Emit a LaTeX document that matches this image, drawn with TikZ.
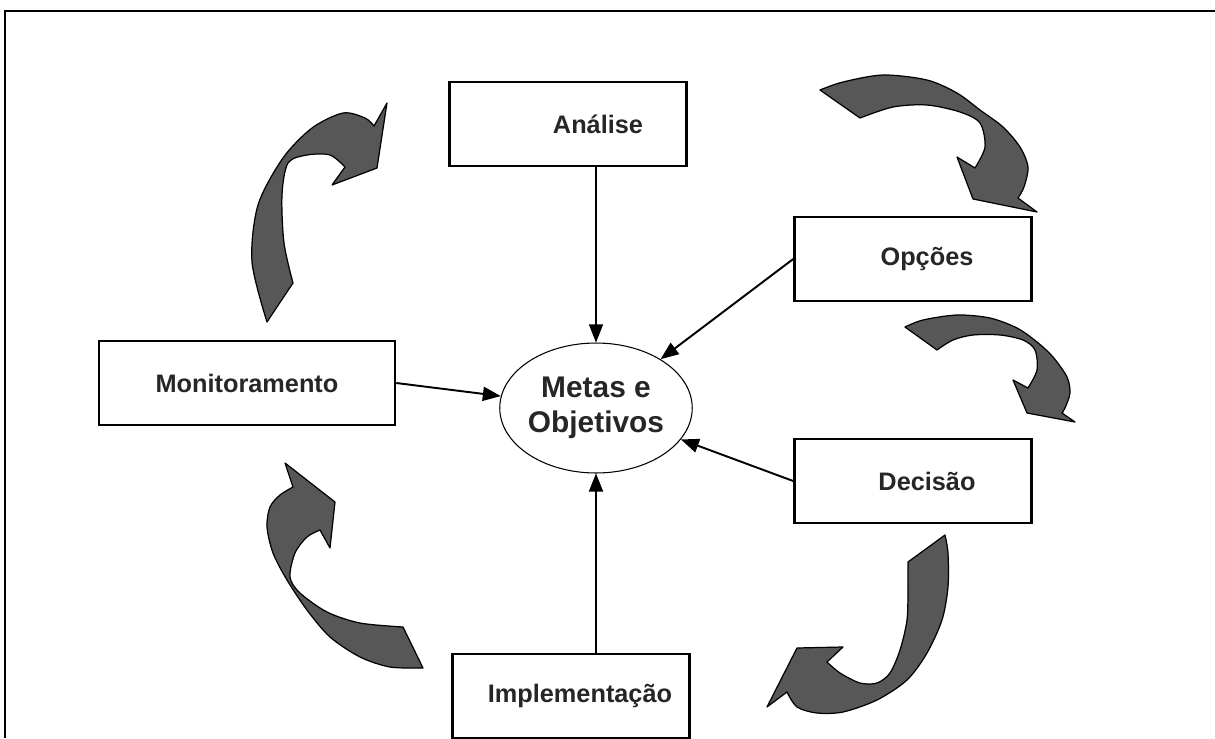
\documentclass[tikz,border=0pt]{standalone}
\usepackage{fontspec}
\setmainfont{Liberation Sans}
\usetikzlibrary{shapes.geometric,arrows.meta}

\begin{document}
\begin{tikzpicture}[x=0.02cm, y=-0.02cm,
        box/.style={draw, line width=1.5pt, minimum height=1.68cm, text=black!85,
            font=\fontsize{14.4}{17}\selectfont\bfseries},
        link/.style={line width=1.1pt, -{Triangle[length=3.6mm,width=2.8mm]}},
        bigarrow/.style={fill=black!66, draw=black, line width=0.7pt, line join=round}]
        \useasboundingbox (0,0) rectangle (1215,738);
        \draw[line width=1.2pt] (5,738) -- (5,11) -- (1215,11);

        % boxes of the cycle
        \node[box, minimum width=4.74cm] (analise) at (568,124) {\hspace*{1.2cm}Análise};
        \node[box, minimum width=4.74cm] (opcoes) at (913,259) {\hspace*{0.56cm}Opções};
        \node[box, minimum width=4.74cm] (decisao) at (913,481) {\hspace*{0.56cm}Decisão};
        \node[box, minimum width=4.74cm] (implementacao) at (571,696) {\hspace*{0.36cm}Implementação};
        \node[box, minimum width=5.92cm] (monitoramento) at (247,383) {Monitoramento};
        \node[draw, ellipse, line width=0.6pt, inner sep=0pt, minimum width=3.84cm, minimum height=2.6cm,
            align=center, text=black!85, font=\fontsize{17}{20}\selectfont\bfseries]
            (metas) at (596,408) {Metas e\\Objetivos};

        % straight arrows into the centre
        \draw[link, line width=0.6pt] (metas.north |- analise.south) -- (metas.north);
        \draw[link] (opcoes.west) -- (metas);
        \draw[link] (decisao.west) -- (metas);
        \draw[link] (metas.south |- implementacao.north) -- (metas.south);
        \draw[link] (monitoramento.east) -- (metas);

        % big curved arrows
        \filldraw[bigarrow] plot[smooth] coordinates {(267,322) (252,262) (258,205) (283,158) (312,128) (343,113) (365,118) (374,126)}
            -- (387,103) -- (377,168) -- (332,185)
            -- plot[smooth] coordinates {(345,167) (330,155) (307,155) (288,163) (282,195) (284,243) (293,283)} -- cycle;
        \filldraw[bigarrow] plot[smooth] coordinates {(820,90) (843,82) (883,75) (927,80) (957,93) (980,110) (1003,127) (1020,147) (1028,167) (1024,187) (1018,198)}
            -- (1037,212) -- (973,199) -- (957,157)
            -- plot[smooth] coordinates {(975,168) (985,147) (980,123) (960,112) (927,105) (893,107) (860,118)} -- cycle;
        \filldraw[bigarrow] plot[smooth] coordinates {(905,327) (923,320) (957,315) (990,318) (1017,328) (1037,342) (1053,357) (1067,377) (1070,393) (1065,408) (1062,413)}
            -- (1075,422) -- (1027,413) -- (1013,380)
            -- plot[smooth] coordinates {(1028,388) (1037,370) (1035,350) (1023,340) (1000,335) (973,335) (953,340) (937,350)} -- cycle;
        \filldraw[bigarrow] plot[smooth] coordinates {(945,535) (948,553) (948,587) (942,620) (927,653) (907,680) (877,700) (843,712) (817,713) (797,707) (787,692)}
            -- (767,707) -- (797,648) -- (843,647)
            -- plot[smooth] coordinates {(827,662) (840,673) (860,683) (877,683) (890,673) (900,650) (907,620) (908,587) (908,562)} -- cycle;
        \filldraw[bigarrow] plot[smooth] coordinates {(423,668) (390,667) (360,657) (330,637) (307,610) (287,580) (273,553) (267,527) (270,507) (280,495) (293,487)}
            -- (285,463) -- (335,502) -- (330,548)
            -- plot[smooth] coordinates {(320,530) (307,537) (295,553) (290,577) (300,593) (327,612) (360,623) (403,627)} -- cycle;
    \end{tikzpicture}
\end{document}
